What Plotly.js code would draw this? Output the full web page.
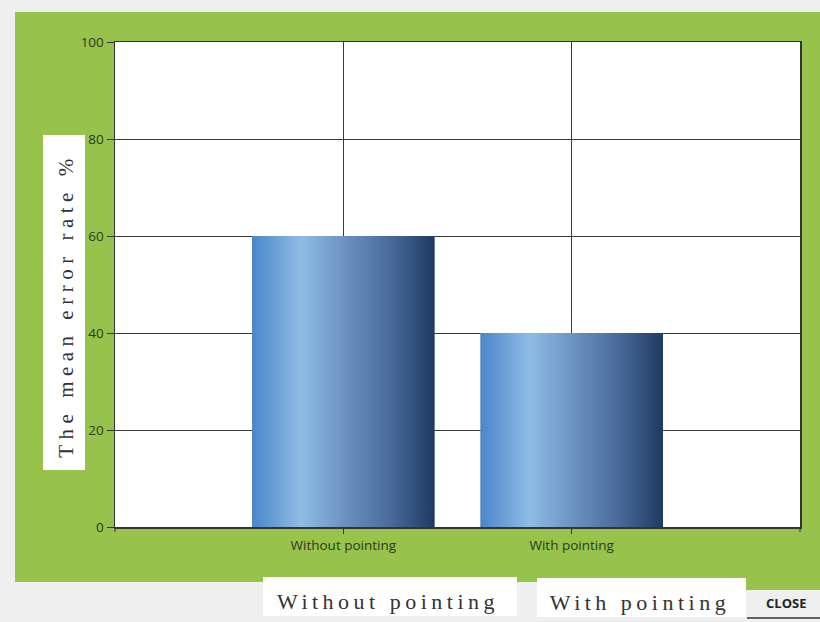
<!DOCTYPE html>
<html>
<head>
<meta charset="utf-8">
<script src="https://cdn.plot.ly/plotly-3.0.1.min.js"></script>
<style>
  html, body { margin: 0; padding: 0; background: #efefef; }
  #chart { width: 820px; height: 622px; }
</style>
</head>
<body>
<div id="chart"></div>
<script>
// ---- data ----
const categories = ["Without pointing", "With pointing"];
const errorRates = [60, 40];
const yTickVals = [0, 20, 40, 60, 80, 100];
const yTitle = "The mean error rate %";
const bottomLabels = ["Without pointing", "With pointing"];
const closeLabel = "CLOSE";

// ---- layout helpers (pixel -> paper) ----
const L = 115, R = 800, T = 42, B = 527;
const px = v => (v - L) / (R - L);
const py = v => (B - v) / (B - T);

const green = "#97c24b";
const serif = "Liberation Serif, DejaVu Serif, serif";
const sans = "Open Sans, DejaVu Sans, sans-serif";

const trace = {
  type: "bar",
  x: categories,
  y: errorRates,
  marker: { color: "#5b88bf", line: { width: 0 } },
  hoverinfo: "none"
};

const shapes = [
  // green panel
  { type: "rect", xref: "paper", yref: "paper", layer: "below",
    x0: px(15), x1: px(820), y0: py(12), y1: py(582),
    fillcolor: green, line: { width: 0 } },
  { type: "rect", xref: "paper", yref: "paper", layer: "below",
    x0: px(746), x1: px(820), y0: py(582), y1: py(590),
    fillcolor: green, line: { width: 0 } },
  // white plot area
  { type: "rect", xref: "paper", yref: "paper", layer: "below",
    x0: 0, x1: 1, y0: 0, y1: 1, fillcolor: "#ffffff", line: { width: 0 } },
  // y title box
  { type: "rect", xref: "paper", yref: "paper", layer: "below",
    x0: px(43), x1: px(85), y0: py(470), y1: py(135),
    fillcolor: "#ffffff", line: { width: 0 } },
  // bottom label boxes
  { type: "rect", xref: "paper", yref: "paper", layer: "below",
    x0: px(263), x1: px(517), y0: py(616), y1: py(577),
    fillcolor: "#ffffff", line: { width: 0 } },
  { type: "rect", xref: "paper", yref: "paper", layer: "below",
    x0: px(537), x1: px(746), y0: py(617), y1: py(578),
    fillcolor: "#ffffff", line: { width: 0 } },
  // close underline
  { type: "line", xref: "paper", yref: "paper", layer: "above",
    x0: px(747), x1: px(820), y0: py(618), y1: py(618),
    line: { color: "#333333", width: 1.5 } },
  // frame extensions below axis
  { type: "line", xref: "paper", yref: "paper", layer: "above",
    x0: 0, x1: 0, y0: 0, y1: py(532), line: { color: "#333", width: 1 } },
  { type: "line", xref: "paper", yref: "paper", layer: "above",
    x0: 1, x1: 1, y0: 0, y1: py(532), line: { color: "#333", width: 1 } }
];

const annotations = [
  { text: yTitle, xref: "paper", yref: "paper", x: px(66), y: py(306),
    textangle: -90, showarrow: false, xanchor: "center", yanchor: "middle",
    font: { family: serif, size: 21, color: "#333333" } },
  { text: bottomLabels[0], xref: "paper", yref: "paper", x: px(388), y: py(601),
    showarrow: false, xanchor: "center", yanchor: "middle",
    font: { family: serif, size: 22, color: "#333333" } },
  { text: bottomLabels[1], xref: "paper", yref: "paper", x: px(640), y: py(602),
    showarrow: false, xanchor: "center", yanchor: "middle",
    font: { family: serif, size: 22, color: "#333333" } },
  { text: "<b>" + closeLabel + "</b>", xref: "paper", yref: "paper", x: px(786), y: py(603),
    showarrow: false, xanchor: "center", yanchor: "middle",
    font: { family: sans, size: 13, color: "#222222" } }
];

const layout = {
  width: 820, height: 622,
  margin: { l: L, r: 820 - R, t: T, b: 622 - B, pad: 0 },
  paper_bgcolor: "#efefef",
  plot_bgcolor: "rgba(0,0,0,0)",
  showlegend: false,
  bargap: 0.2,
  xaxis: {
    type: "category", range: [-1, 2],
    showgrid: true, gridcolor: "#3a3a3a", gridwidth: 1,
    showline: true, linecolor: "#333333", linewidth: 1.5, mirror: true,
    ticks: "outside", ticklen: 5, tickcolor: "#333",
    tickfont: { family: sans, size: 13.5, color: "#2b3a1c" },
    fixedrange: true
  },
  yaxis: {
    range: [0, 100], tickvals: yTickVals,
    showgrid: true, gridcolor: "#3a3a3a", gridwidth: 1,
    showline: true, linecolor: "#333333", linewidth: 1.5, mirror: true,
    ticks: "outside", ticklen: 7, tickcolor: "#333",
    tickfont: { family: sans, size: 13.5, color: "#2b3a1c" },
    zeroline: false, fixedrange: true
  },
  shapes: shapes,
  annotations: annotations
};

Plotly.newPlot("chart", [trace], layout, { displayModeBar: false, staticPlot: true }).then(gd => {
  const svg = gd.querySelector("svg.main-svg");
  const NS = "http://www.w3.org/2000/svg";
  let defs = svg.querySelector("defs");
  if (!defs) { defs = document.createElementNS(NS, "defs"); svg.insertBefore(defs, svg.firstChild); }
  const grad = document.createElementNS(NS, "linearGradient");
  grad.setAttribute("id", "barGrad");
  grad.setAttribute("x1", "0"); grad.setAttribute("x2", "1");
  grad.setAttribute("y1", "0"); grad.setAttribute("y2", "0");
  [["0", "#4a86c8"], ["0.27", "#8fbce5"], ["0.5", "#6d93c3"], ["0.75", "#4a6c9c"], ["1", "#1f3a62"]]
    .forEach(([o, c]) => {
      const s = document.createElementNS(NS, "stop");
      s.setAttribute("offset", o); s.setAttribute("stop-color", c);
      grad.appendChild(s);
    });
  defs.appendChild(grad);
  gd.querySelectorAll(".bars .point path").forEach(p => { p.style.fill = "url(#barGrad)"; });
  const annTexts = gd.querySelectorAll(".annotation-text");
  annTexts.forEach((t, i) => {
    if (i < 3) t.style.letterSpacing = i === 0 ? "5.5px" : "4.5px";
  });
});
</script>
</body>
</html>
